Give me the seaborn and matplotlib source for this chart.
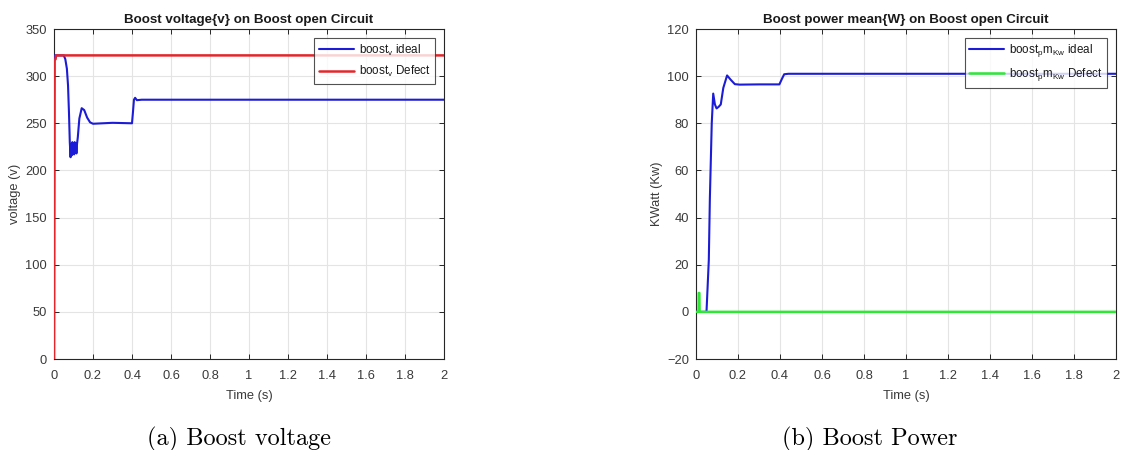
import matplotlib
matplotlib.use("Agg")
import matplotlib.pyplot as plt
import seaborn as sns
import pandas as pd

# --- Boost voltage (V) ---
v_ideal_t = [0.0, 0.003, 0.05, 0.058, 0.066, 0.072, 0.077, 0.081, 0.085, 0.088, 0.091,
             0.094, 0.097, 0.100, 0.103, 0.106, 0.109, 0.112, 0.115, 0.118, 0.122,
             0.130, 0.142, 0.155, 0.170, 0.185, 0.200, 0.250, 0.300, 0.400, 0.405,
             0.410, 0.416, 0.425, 0.450, 2.0]
v_ideal = [0, 322, 322, 318, 308, 290, 260, 230, 214, 228, 216,
           230, 219, 229, 217, 230, 222, 229, 218, 228, 235,
           255, 266, 264, 256, 251, 249.5, 250, 250.5, 250, 262,
           275, 277, 274.5, 275, 275]
v_defect_t = [0.0, 0.001, 0.008, 0.010, 2.0]
v_defect = [0, 317, 318, 322, 322]

# --- Boost mean power (kW) ---
p_ideal_t = [0.0, 0.050, 0.061, 0.066, 0.075, 0.082, 0.090, 0.098, 0.108, 0.118,
             0.130, 0.148, 0.165, 0.185, 0.208, 0.300, 0.397, 0.410, 0.420, 0.440, 2.0]
p_ideal = [0, 0, 22, 48, 80, 92.6, 88, 86.3, 87, 88,
           95, 100.3, 98.5, 96.6, 96.4, 96.5, 96.5, 99, 100.8, 101, 101]
p_defect_t = [0.0, 0.012, 0.013, 0.016, 0.017, 2.0]
p_defect = [0, 0, 8, 8, 0, 0]

time_ticks = [0, 0.2, 0.4, 0.6, 0.8, 1, 1.2, 1.4, 1.6, 1.8, 2]
time_labels = ["0", "0.2", "0.4", "0.6", "0.8", "1", "1.2", "1.4", "1.6", "1.8", "2"]

sns.set_theme(style="white")
plt.rcParams["font.family"] = ["Liberation Sans", "DejaVu Sans"]
plt.rcParams["mathtext.fontset"] = "custom"
plt.rcParams["mathtext.rm"] = "Liberation Sans"
plt.rcParams["mathtext.it"] = "Liberation Sans:italic"

BLUE = "#1c1cd6"
RED = "#e3262b"
GREEN = "#2ee835"
TXT = "#3a3a3a"

fig = plt.figure(figsize=(11.21, 4.5), dpi=100)
ax1 = fig.add_axes([54 / 1121, 1 - 359 / 450, 390 / 1121, 330 / 450])
ax2 = fig.add_axes([696 / 1121, 1 - 359 / 450, 420 / 1121, 330 / 450])


def series(t, y, name):
    return pd.DataFrame({"t": t, "y": y, "s": name})


sns.lineplot(data=series(v_ideal_t, v_ideal, "ideal"), x="t", y="y", ax=ax1,
             color=BLUE, lw=1.5, estimator=None, sort=False, zorder=3,
             label=r"boost$_{\rm v}$ ideal")
sns.lineplot(data=series(v_defect_t, v_defect, "defect"), x="t", y="y", ax=ax1,
             color=RED, lw=1.8, estimator=None, sort=False, zorder=4,
             label=r"boost$_{\rm v}$ Defect")

sns.lineplot(data=series(p_ideal_t, p_ideal, "ideal"), x="t", y="y", ax=ax2,
             color=BLUE, lw=1.5, estimator=None, sort=False, zorder=3,
             label=r"boost$_{\rm p}$m$_{\rm Kw}$ ideal")
sns.lineplot(data=series(p_defect_t, p_defect, "defect"), x="t", y="y", ax=ax2,
             color=GREEN, lw=1.8, estimator=None, sort=False, zorder=4,
             label=r"boost$_{\rm p}$m$_{\rm Kw}$ Defect")

ax1.set_ylim(0, 350)
ax1.set_yticks(range(0, 351, 50))
ax2.set_ylim(-20, 120)
ax2.set_yticks(range(-20, 121, 20))

titles = ["Boost voltage{v} on Boost open Circuit",
          "Boost power mean{W} on Boost open Circuit"]
ylabels = ["voltage (v)", "KWatt (Kw)"]

for ax, title, ylab in zip([ax1, ax2], titles, ylabels):
    ax.set_xlim(0, 2)
    ax.set_xticks(time_ticks)
    ax.set_xticklabels(time_labels)
    ax.grid(True, color="#e4e4e4", lw=0.8)
    ax.set_axisbelow(True)
    for sp in ax.spines.values():
        sp.set_color("#262626")
        sp.set_linewidth(0.8)
    ax.tick_params(axis="both", which="both", direction="in", length=3.5,
                   width=0.7, colors="#262626", labelcolor=TXT, labelsize=9.3,
                   top=True, right=True, bottom=True, left=True)
    ax.tick_params(axis="x", pad=8)
    ax.tick_params(axis="y", pad=5)
    ax.set_title(title, fontsize=9.6, fontweight="bold", color="#1a1a1a", pad=4)
    ax.set_xlabel("Time (s)", fontsize=9.3, color=TXT, labelpad=6)
    ax.set_ylabel(ylab, fontsize=9.3, color=TXT, labelpad=3)
    leg = ax.legend(loc="upper right", fontsize=8.4, frameon=True, fancybox=False,
                    handlelength=3.0, borderaxespad=0.75, labelspacing=0.55,
                    borderpad=0.4, handletextpad=0.4)
    leg.get_frame().set_edgecolor("#262626")
    leg.get_frame().set_linewidth(0.8)
    for txt in leg.get_texts():
        txt.set_color("#1a1a1a")

fig.text(239 / 1121, 1 - 439 / 450, "(a) Boost voltage", fontsize=17.5,
         family="cmr10", ha="center", va="center", color="black")
fig.text(870 / 1121, 1 - 439 / 450, "(b) Boost Power", fontsize=17.5,
         family="cmr10", ha="center", va="center", color="black")

fig.savefig("out.png", dpi=100)
